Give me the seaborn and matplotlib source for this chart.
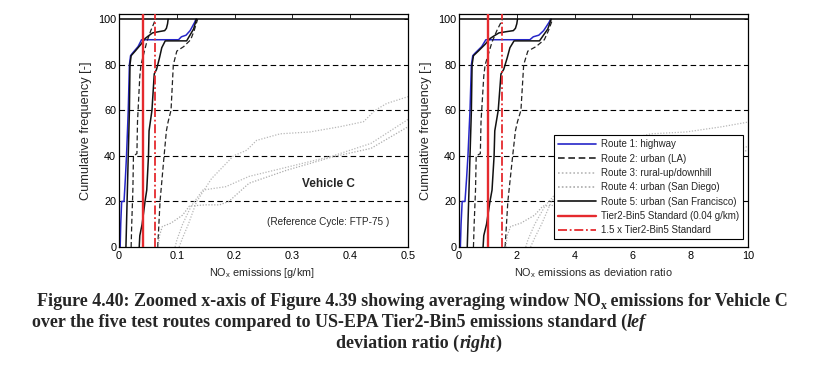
"""Cumulative NOx window emissions for Vehicle C, g/km and deviation ratio."""

import matplotlib
matplotlib.use("Agg")
import matplotlib.pyplot as plt
from matplotlib.lines import Line2D
import numpy as np
import pandas as pd
import seaborn as sns

# Standard as it sits on the left panel (label says 0.04 g/km)
TIER2_BIN5 = 0.042

# Route 1: highway
R1_X = [0.002, 0.003, 0.0046, 0.0087, 0.011, 0.013, 0.016, 0.018, 0.020,
        0.023, 0.028, 0.033, 0.039, 0.045, 0.103, 0.108, 0.116, 0.123,
        0.131, 0.133]
R1_Y = [0, 10, 20, 20, 30, 40, 60, 80, 84, 85, 86.5, 88, 91, 91, 91, 92.3,
        93, 95, 98.7, 100]
# Route 2: urban (LA), two windows
R2A_X = [0.021, 0.022, 0.024, 0.025, 0.031, 0.032, 0.034, 0.036, 0.038,
         0.043, 0.048, 0.055, 0.060, 0.063]
R2A_Y = [0, 10, 25, 40, 41, 55, 65, 75, 80, 85, 90, 95, 98, 100]
R2B_X = [0.067, 0.069, 0.071, 0.078, 0.082, 0.085, 0.088, 0.090, 0.094,
         0.100, 0.112, 0.124, 0.130, 0.136]
R2B_Y = [0, 10, 20, 40, 51, 55, 58, 60, 80, 86, 88, 91, 95, 100]
# Route 3: rural-up/downhill
R3A_X = [0.104, 0.11, 0.12, 0.134, 0.16, 0.198, 0.221, 0.238, 0.279, 0.33,
         0.382, 0.423, 0.443, 0.463, 0.5]
R3A_Y = [0, 4, 10, 19.8, 30, 40, 42.5, 46.8, 49.7, 50.5, 52.8, 55, 60, 63, 66]
R3B_X = [0.097, 0.10, 0.11, 0.125, 0.145, 0.185, 0.225, 0.29, 0.37, 0.436,
         0.5]
R3B_Y = [0, 3, 10, 18, 25, 26.5, 31, 35, 40, 45.5, 56]
# Route 4: urban (San Diego)
R4_X = [0.068, 0.070, 0.075, 0.09, 0.11, 0.122, 0.15, 0.174, 0.19, 0.225,
        0.29, 0.37, 0.436, 0.5]
R4_Y = [0, 5, 9, 10.5, 14, 18, 18.5, 18.5, 20, 28, 33.7, 39.6, 43.3, 52.8]
# Route 5: urban (San Francisco), two windows
R5A_X = [0.012, 0.013, 0.014, 0.016, 0.018, 0.019, 0.021, 0.028, 0.038,
         0.045, 0.050, 0.058, 0.070, 0.079, 0.082, 0.084, 0.085]
R5A_Y = [0, 10, 20, 40, 60, 80, 84, 86, 89, 91.5, 92.5, 94, 94.6, 95, 96,
         98, 100]
R5B_X = [0.035, 0.036, 0.040, 0.045, 0.048, 0.051, 0.052, 0.057, 0.061,
         0.065, 0.070, 0.074, 0.080, 0.117, 0.129, 0.134]
R5B_Y = [0, 5, 10, 20, 25, 40, 51, 60, 76, 78, 83, 87.5, 90.5, 90.5, 95.7,
         100]

ROUTE_LABELS = ["Route 1: highway", "Route 2: urban (LA)",
                "Route 3: rural-up/downhill", "Route 4: urban (San Diego)",
                "Route 5: urban (San Francisco)"]
STD_LABELS = ["Tier2-Bin5 Standard (0.04 g/km)", "1.5 x Tier2-Bin5 Standard"]

STYLES = {
  0: dict(color="#2626c8", linestyle="-", lw=1.1),
  1: dict(color="#222222", linestyle=(0, (4, 2.2)), lw=0.9),
  2: dict(color="#b8b8b8", linestyle=(0, (1, 1.3)), lw=0.9),
  3: dict(color="#acacac", linestyle=(0, (1, 1.3, 1, 1.3)), lw=0.9),
  4: dict(color="#111111", linestyle="-", lw=1.1),
}
RED = "#e52a2e"

curves = [(0, R1_X, R1_Y), (1, R2A_X, R2A_Y), (1, R2B_X, R2B_Y),
          (2, R3A_X, R3A_Y), (2, R3B_X, R3B_Y), (3, R4_X, R4_Y),
          (4, R5A_X, R5A_Y), (4, R5B_X, R5B_Y)]
frames = []
for k, (route, xs, ys) in enumerate(curves):
  frames.append(pd.DataFrame({"curve": k, "route": route,
                              "gkm": xs, "freq": ys}))
df = pd.concat(frames, ignore_index=True)
df["ratio"] = df["gkm"] / TIER2_BIN5

sns.set_theme(style="white")
plt.rcParams["font.family"] = ["Liberation Sans", "DejaVu Sans"]
plt.rcParams["mathtext.default"] = "regular"

fig = plt.figure(figsize=(8.25, 3.66), dpi=100)
W, H = 825.0, 366.0
ax_l = fig.add_axes([119 / W, 1 - 247 / H, 289 / W, 233 / H])
ax_r = fig.add_axes([459 / W, 1 - 247 / H, 289 / W, 233 / H])


def drawPanel(ax, xcol, xmax, xticks, std, xlabel, xlabel_pos):
  """
  Draws one cumulative frequency panel.
  """
  for k in sorted(df["curve"].unique()):
    sub = df[df["curve"] == k]
    st = STYLES[sub["route"].iloc[0]]
    sns.lineplot(data=sub, x=xcol, y="freq", ax=ax, estimator=None,
                 sort=False, color=st["color"], linestyle=st["linestyle"],
                 lw=st["lw"], legend=False)
  for yv in [20, 40, 60, 80]:
    ax.axhline(yv, color="black", lw=0.8, linestyle=(0, (5, 3)), zorder=1)
  ax.axhline(100, color="black", lw=1.1, zorder=3)
  ax.axvline(std, color=RED, lw=1.7, zorder=4)
  ax.axvline(1.5 * std, color=RED, lw=1.3, linestyle=(0, (5, 1.5, 1, 1.5)),
             zorder=4)
  ax.set_xlim(0, xmax)
  ax.set_ylim(0, 102.3)
  ax.set_xticks(xticks)
  ax.set_xticklabels([("%g" % t) for t in xticks])
  ax.set_yticks([0, 20, 40, 60, 80, 100])
  ax.tick_params(direction="in", length=3, width=0.6, top=True, right=True,
                 labelsize=7.8, pad=2, colors="black")
  ax.tick_params(axis="x", pad=3)
  for sp in ax.spines.values():
    sp.set_color("black")
    sp.set_linewidth(0.9)
  ax.set_xlabel(xlabel, fontsize=7.8)
  ax.xaxis.set_label_coords(xlabel_pos, -0.082)
  ax.set_ylabel("Cumulative frequency [-]", fontsize=9.2)
  ax.yaxis.set_label_coords(-0.092, 0.5)


drawPanel(ax_l, "gkm", 0.5, [0, 0.1, 0.2, 0.3, 0.4, 0.5], TIER2_BIN5,
          "NO$_x$ emissions [g/km]", 0.496)
drawPanel(ax_r, "ratio", 10, [0, 2, 4, 6, 8, 10], 1.0,
          "NO$_x$ emissions as deviation ratio", 0.464)

ax_l.text(0.362, 27.6, "Vehicle C", fontsize=8.5, fontweight="bold",
          ha="center", va="center")
ax_l.text(0.362, 11, "(Reference Cycle: FTP-75 )", fontsize=7.2,
          ha="center", va="center")

handles = [Line2D([], [], color=STYLES[i]["color"],
                  linestyle=STYLES[i]["linestyle"], lw=1.2) for i in range(5)]
handles += [Line2D([], [], color=RED, lw=1.7),
            Line2D([], [], color=RED, lw=1.3,
                   linestyle=(0, (5, 1.5, 1, 1.5)))]
leg = ax_r.legend(handles, ROUTE_LABELS + STD_LABELS, loc="lower right",
                  bbox_to_anchor=(0.983, 0.033), borderaxespad=0,
                  fontsize=7, frameon=True, fancybox=False,
                  edgecolor="black", framealpha=1, handlelength=3.9,
                  labelspacing=0.45, borderpad=0.4, handletextpad=0.5)
leg.get_frame().set_linewidth(0.8)
leg.set_zorder(10)

# Caption, drawn piece by piece so bold and bold-italic can mix
renderer = fig.canvas.get_renderer()


def putPieces(x, y, pieces, ha="left", size=13.0):
  texts = []
  widths = []
  for s, italic, sub in pieces:
    fs = size * 0.65 if sub else size
    t = fig.text(0, y, s, fontsize=fs, family="Liberation Serif",
                 fontweight="bold", style="italic" if italic else "normal",
                 va="baseline")
    texts.append((t, sub))
    widths.append(t.get_window_extent(renderer).width)
  total = sum(widths)
  x0 = x * W - (total / 2 if ha == "center" else 0)
  for (t, sub), w in zip(texts, widths):
    t.set_x(x0 / W)
    if sub:
      t.set_y(y - 3 / H)
    x0 += w


putPieces(36.7 / W, 1 - 305.7 / H,
          [("Figure 4.40: Zoomed x-axis of Figure 4.39 showing averaging "
            "window NO", False, False), ("x", False, True),
           (" emissions for Vehicle C", False, False)])
putPieces(31.7 / W, 1 - 326.7 / H,
          [("over the five test routes compared to US-EPA Tier2-Bin5 "
            "emissions standard (", False, False), ("lef", True, False)])
putPieces(419 / W, 1 - 348.3 / H,
          [("deviation ratio (", False, False), ("right", True, False),
           (")", False, False)], ha="center")

fig.savefig("out.png", dpi=100)
